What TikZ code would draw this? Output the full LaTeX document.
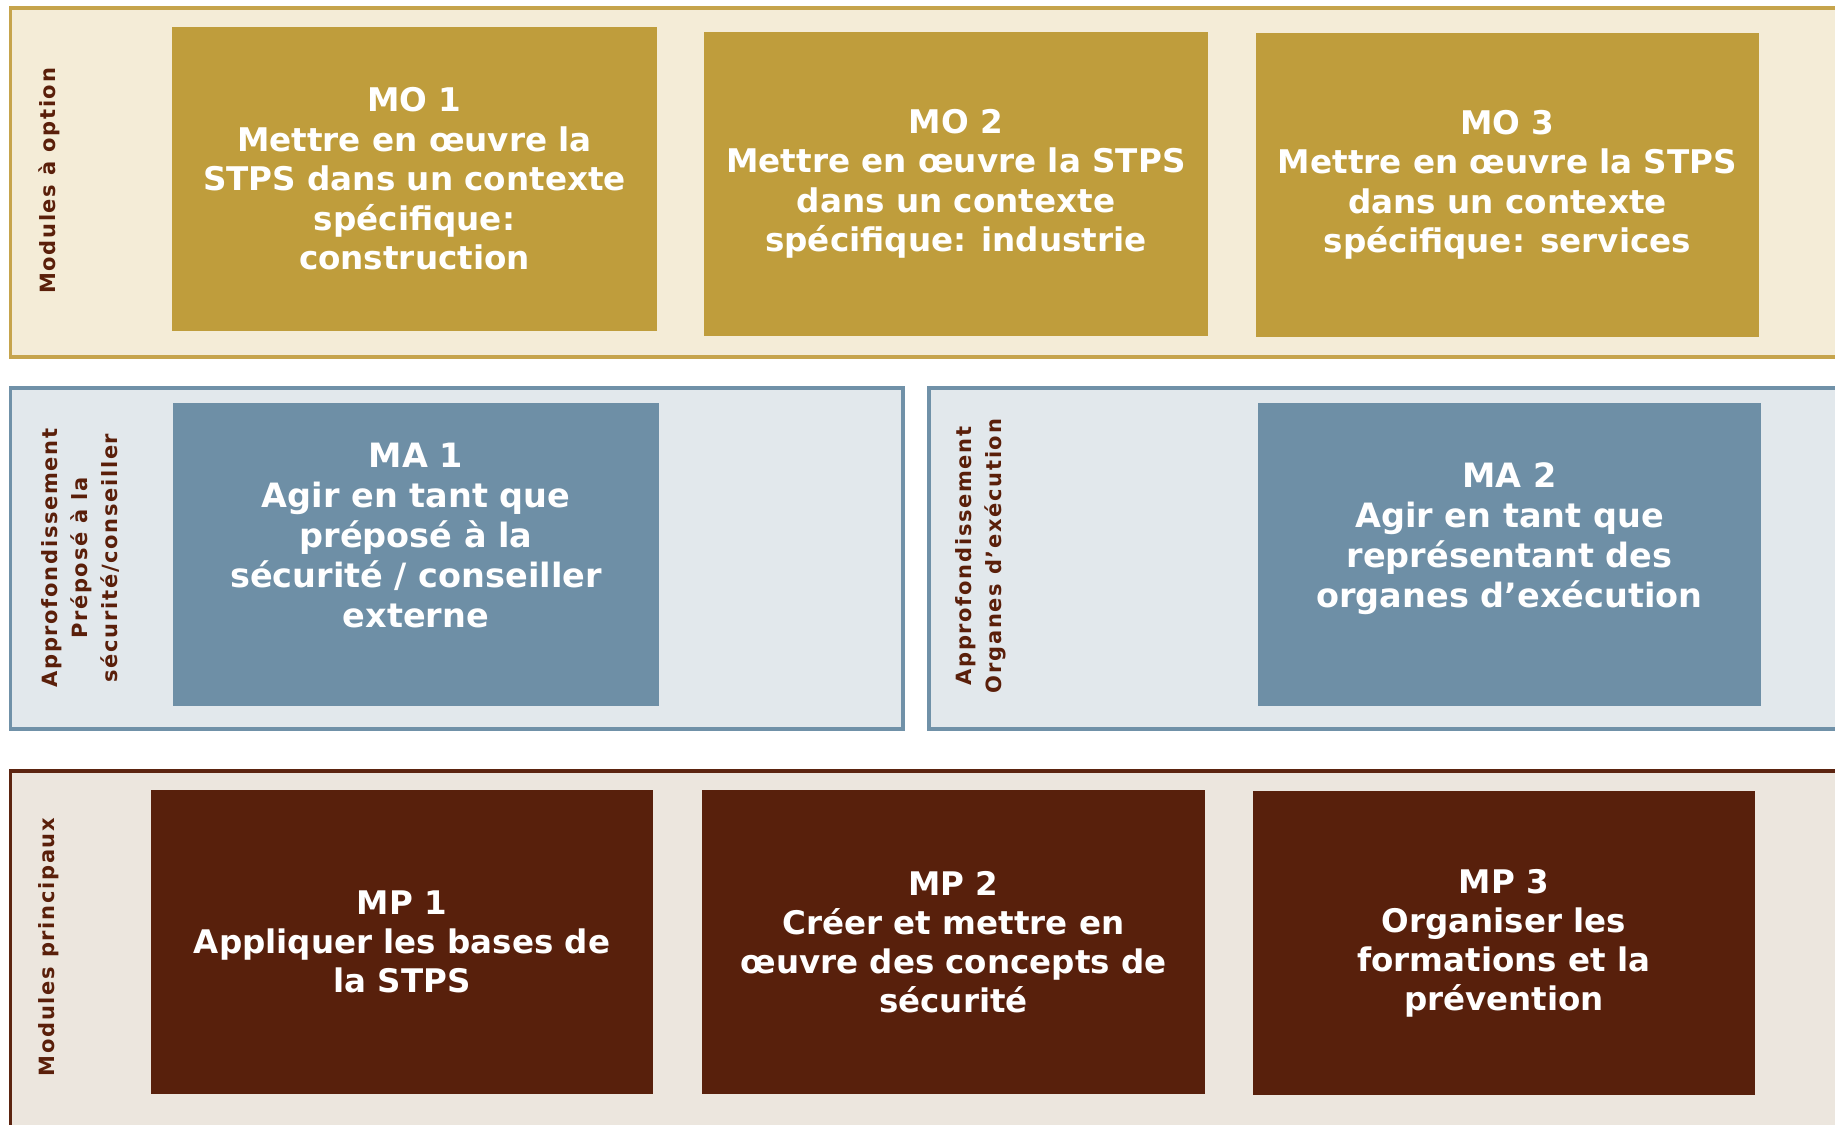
\documentclass[tikz,border=0pt]{standalone}
\usepackage{fontspec}
\setmainfont{DejaVu Sans}
\newfontfamily\labfont[LetterSpace=8]{DejaVu Sans}
\definecolor{optfill}{HTML}{F4ECD7}
\definecolor{optline}{HTML}{C6A44C}
\definecolor{optbox}{HTML}{BF9D3C}
\definecolor{appfill}{HTML}{E2E8EC}
\definecolor{appline}{HTML}{7091A8}
\definecolor{appbox}{HTML}{6E8FA6}
\definecolor{prifill}{HTML}{ECE6DE}
\definecolor{priline}{HTML}{5C2410}
\definecolor{pribox}{HTML}{58200C}
\definecolor{labtext}{HTML}{5A1F0A}
\tikzset{
  module/.style={minimum width=500pt,minimum height=304pt,inner sep=0pt,align=center,
    text=white,font=\fontsize{32.6}{39.5}\selectfont\bfseries},
  optmod/.style={module,fill=optbox},
  appmod/.style={module,fill=appbox},
  apptext/.style={text=white,align=center,font=\fontsize{33.5}{39.8}\selectfont\bfseries},
  primod/.style={module,fill=pribox,font=\fontsize{32.5}{39}\selectfont\bfseries},
  sidelabel/.style={rotate=90,align=center,text=labtext,inner sep=0pt,
    font=\labfont\fontsize{21}{30}\selectfont\bfseries}
}
\begin{document}
\begin{tikzpicture}[x=1pt,y=-1pt]
\clip (0,0) rectangle (1835,1124);
\fill[white] (0,0) rectangle (1835,1124);
% bands
\draw[optline,fill=optfill,line width=3.5pt] (10.5,8) rectangle (1860,357);
\draw[appline,fill=appfill,line width=3.5pt] (10.5,388) rectangle (903,729);
\draw[appline,fill=appfill,line width=3.5pt] (929,388) rectangle (1860,729);
\draw[priline,fill=prifill,line width=3.5pt] (10.5,771) rectangle (1860,1140);
% side labels
\node[sidelabel] (optlab) at (49,181) {Modules à option};
\node[sidelabel] (applab1) at (80,558) {Approfondissement\\Préposé à la\\sécurité/conseiller};
\node[sidelabel] (applab2) at (981,556) {Approfondissement\\Organes d’exécution};
\node[sidelabel] (prilab) at (49,947) {Modules principaux};
% modules a option
\node[optmod,minimum width=485pt] (mo1) at (414.5,179)
  {MO 1\\Mettre en œuvre la\\STPS dans un contexte\\spécifique:\\construction};
\node[optmod,minimum width=504pt] (mo2) at (956,184)
  {MO 2\\Mettre en œuvre la STPS\\dans un contexte\\spécifique: industrie};
\node[optmod,minimum width=503pt] (mo3) at (1507.5,185)
  {MO 3\\Mettre en œuvre la STPS\\dans un contexte\\spécifique: services};
% approfondissement
\node[appmod,minimum width=486pt,minimum height=303pt] (ma1) at (416,554.5) {};
\node[apptext] (ma1txt) at (ma1.center) [yshift=19pt]
  {MA 1\\Agir en tant que\\préposé à la\\sécurité / conseiller\\externe};
\node[appmod,minimum width=503pt,minimum height=303pt] (ma2) at (1509.5,554.5) {};
\node[apptext] (ma2txt) at (ma2.center) [yshift=16pt]
  {MA 2\\Agir en tant que\\représentant des\\organes d’exécution};
% modules principaux
\node[primod,minimum width=502pt] (mp1) at (402,942)
  {MP 1\\Appliquer les bases de\\la STPS};
\node[primod,minimum width=503pt] (mp2) at (953.5,942)
  {MP 2\\Créer et mettre en\\œuvre des concepts de\\sécurité};
\node[primod,minimum width=502pt] (mp3) at (1504,943)
  {MP 3\\Organiser les\\formations et la\\prévention};
\end{tikzpicture}
\end{document}
